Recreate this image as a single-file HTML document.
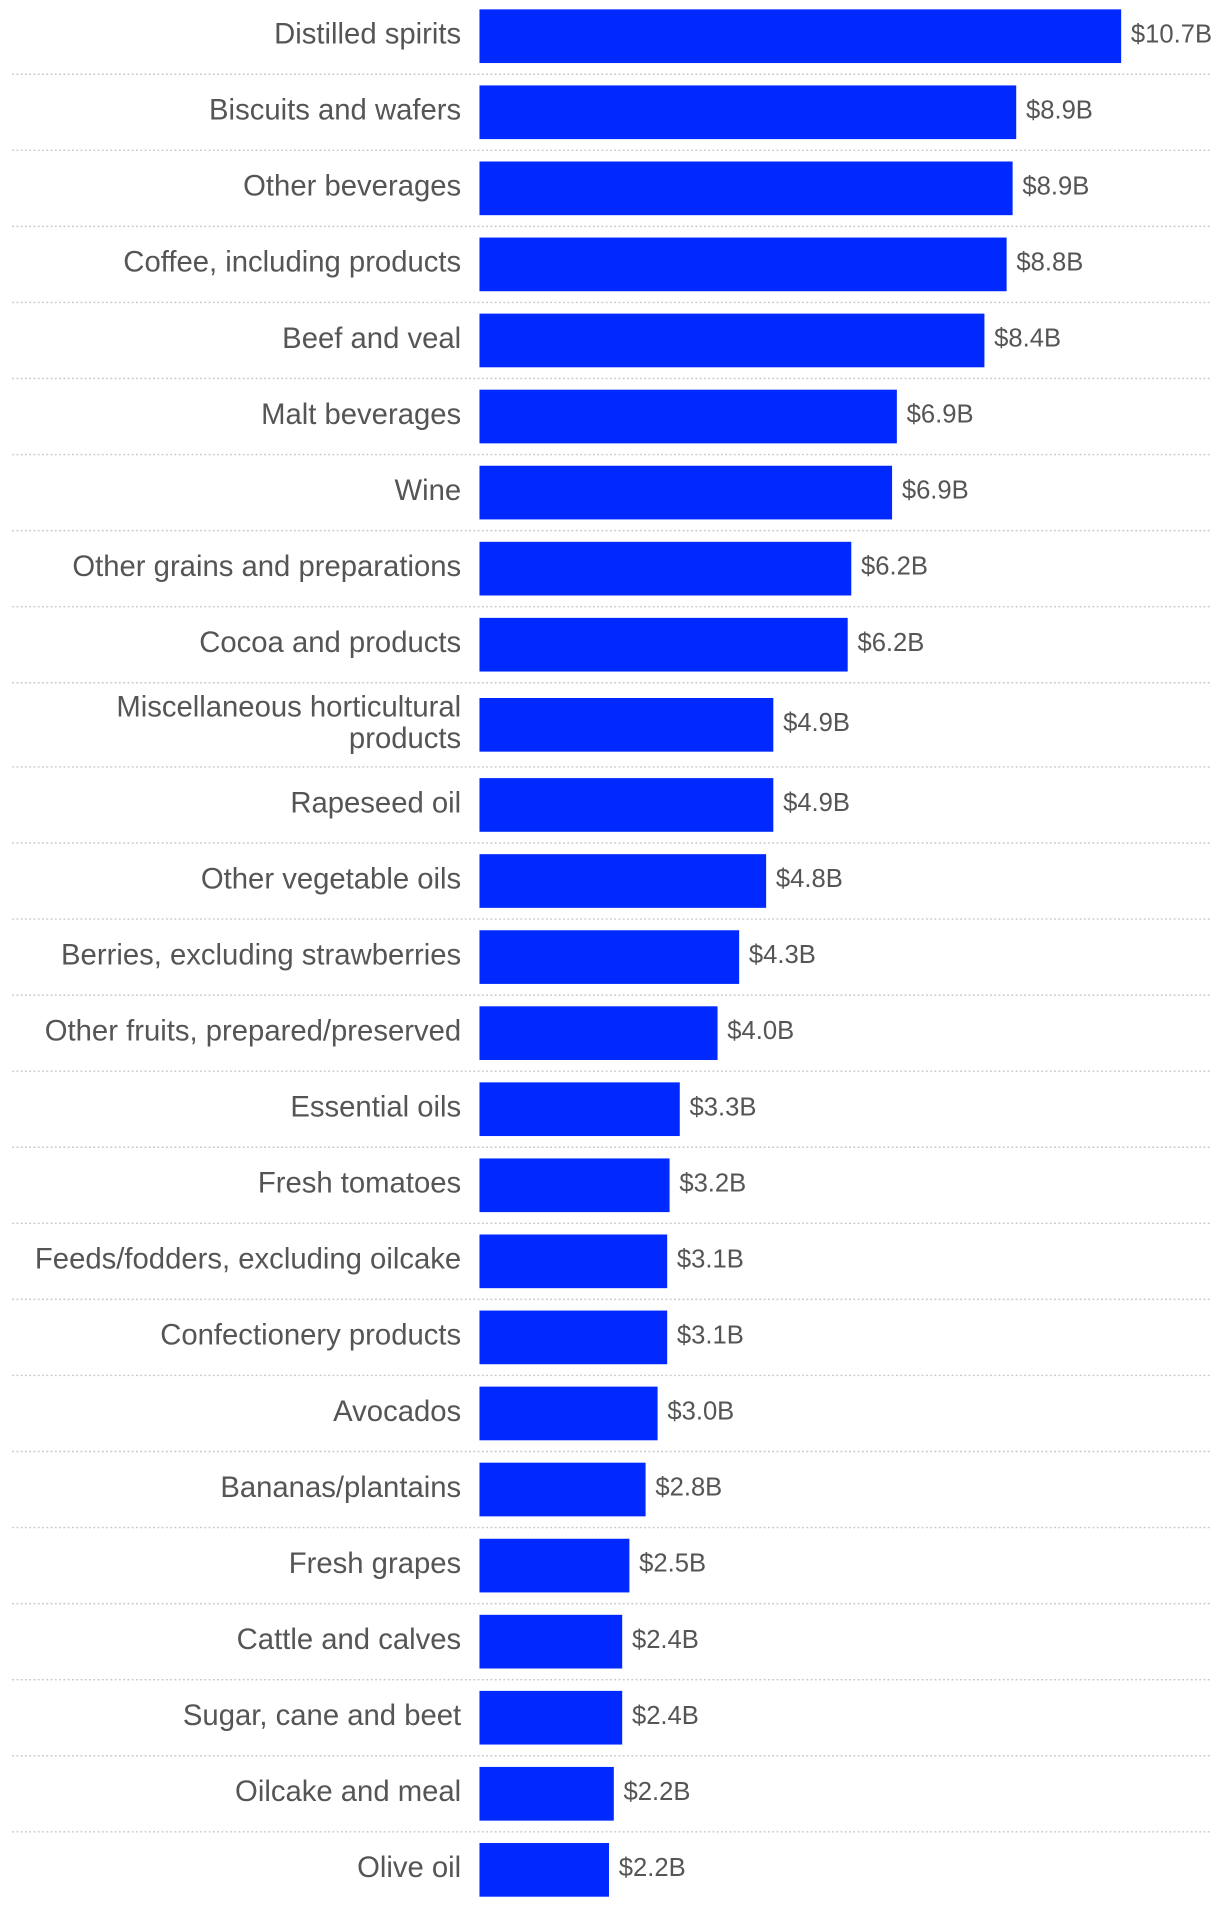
<!DOCTYPE html>
<html><head><meta charset="utf-8"><style>
html,body{margin:0;padding:0;background:#fff;}
svg{display:block;}
text{font-family:"Liberation Sans",sans-serif;fill:#555;}
</style></head><body>
<svg id="chart" width="1220" height="1908" viewBox="0 0 1000 1564" xmlns="http://www.w3.org/2000/svg"></svg>
<script>
const categories = ["Distilled spirits","Biscuits and wafers","Other beverages","Coffee, including products","Beef and veal","Malt beverages","Wine","Other grains and preparations","Cocoa and products","Miscellaneous horticultural|products","Rapeseed oil","Other vegetable oils","Berries, excluding strawberries","Other fruits, prepared/preserved","Essential oils","Fresh tomatoes","Feeds/fodders, excluding oilcake","Confectionery products","Avocados","Bananas/plantains","Fresh grapes","Cattle and calves","Sugar, cane and beet","Oilcake and meal","Olive oil"];
const values = [10.7,8.95,8.89,8.79,8.42,6.96,6.88,6.2,6.14,4.9,4.9,4.78,4.33,3.97,3.34,3.17,3.13,3.13,2.97,2.77,2.5,2.38,2.38,2.24,2.16];
const valueLabels = ["$10.7B","$8.9B","$8.9B","$8.8B","$8.4B","$6.9B","$6.9B","$6.2B","$6.2B","$4.9B","$4.9B","$4.8B","$4.3B","$4.0B","$3.3B","$3.2B","$3.1B","$3.1B","$3.0B","$2.8B","$2.5B","$2.4B","$2.4B","$2.2B","$2.2B"];

const svgEl = document.getElementById('chart');
const NS = "http://www.w3.org/2000/svg";
const x0 = 393, maxW = 526, maxV = 10.7;
const xScale = v => x0 + v / maxV * maxW;
const barH = 44;
let rowTop = -1.5;
function mk(tag, attrs){const e=document.createElementNS(NS,tag);for(const k in attrs)e.setAttribute(k,attrs[k]);svgEl.appendChild(e);return e;}
categories.forEach((c, i) => {
  const lines = c.split('|');
  const rowH = lines.length > 1 ? 69 : 62.35;
  const by = rowTop + (rowH - barH) / 2;
  const cy = by + barH / 2;
  const bar = mk('rect', {x:x0, y:by, width:xScale(values[i])-x0, height:barH, fill:'#0029ff'});
  
  
  lines.forEach((ln, j) => {
    const ty = cy + (j - (lines.length-1)/2) * 26 + 6;
    const t = mk('text', {x:378, y:ty, 'text-anchor':'end', 'font-size':24});
    t.textContent = ln;
    
    
  });
  const v = mk('text', {x:xScale(values[i])+8, y:cy+5, 'font-size':21});
  v.textContent = valueLabels[i];
  
  
  rowTop += rowH;
  if (i < categories.length - 1) {
    const l = mk('line', {x1:10, x2:993, y1:rowTop, y2:rowTop, stroke:'#c8c8c8', 'stroke-width':1.2, 'stroke-dasharray':'1.5 2'});
    
    
  }
});
</script>
</body></html>
